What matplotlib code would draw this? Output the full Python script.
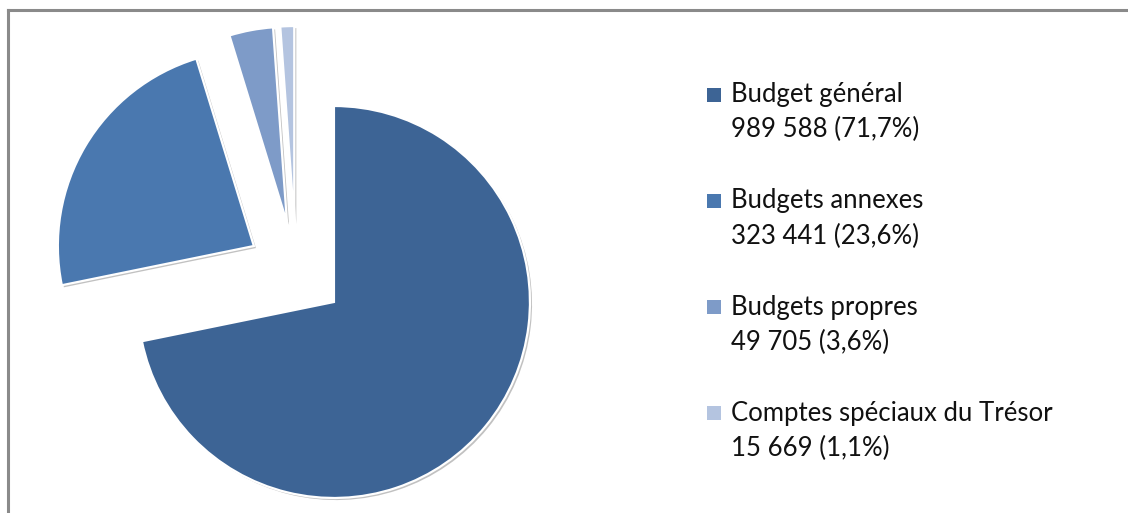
import matplotlib
matplotlib.use("Agg")
import matplotlib.pyplot as plt
from matplotlib.patches import Rectangle
from matplotlib.lines import Line2D
import matplotlib.patheffects as pe

categories = ["Budget général", "Budgets annexes", "Budgets propres", "Comptes spéciaux du Trésor"]
values = [989588, 323441, 49705, 15669]
value_labels = ["989 588 (71,7%)", "323 441 (23,6%)", "49 705 (3,6%)", "15 669 (1,1%)"]
colors = ["#3D6495", "#4A78AF", "#7E9BC8", "#B4C4E0"]

W, H = 1128, 513
fig = plt.figure(figsize=(W / 100, H / 100), dpi=100)
ax = fig.add_axes([0, 0, 1, 1])

R = 196.0
cx, cy = 296.0, 271.0

def px(x, y):
    return (x - cx) / R, (cy - y) / R

wedges, _ = ax.pie(values, colors=colors, startangle=90, counterclock=False,
                   explode=[0.25] * 4, radius=1,
                   wedgeprops=dict(edgecolor="white", linewidth=1.6))
for w in wedges:
    w.set_path_effects([pe.SimplePatchShadow(offset=(1.5, -1.5), shadow_rgbFace="#777777", alpha=0.45),
                        pe.Normal()])

ax.set_aspect("auto")
x0, _ = px(0, 0)
x1, _ = px(W, 0)
_, y1 = px(0, 0)
_, y0 = px(0, H)
ax.set_xlim(x0, x1)
ax.set_ylim(y0, y1)
ax.axis("off")

# frame (top and left edges visible)
fig.add_artist(Line2D([8 / W, 1], [1 - 10 / H, 1 - 10 / H], color="#8a8a8a", lw=2.2))
fig.add_artist(Line2D([8 / W, 8 / W], [0, 1 - 10 / H], color="#8a8a8a", lw=2.2))

font = "Lato"
fs = 18.5
for i, (cat, lab, col) in enumerate(zip(categories, value_labels, colors)):
    base1 = 102 + 106.3 * i
    base2 = 137.5 + 106.3 * i
    sq_c = 94.5 + 106.3 * i
    sx, sy = px(707, sq_c + 7)
    ax.add_patch(Rectangle((sx, sy), 14 / R, 14 / R, facecolor=col, edgecolor="none"))
    tx, ty = px(731, base1)
    ax.text(tx, ty, cat, fontsize=fs, family=font, va="baseline", ha="left", color="#111111")
    tx, ty = px(731, base2)
    ax.text(tx, ty, lab, fontsize=fs, family=font, va="baseline", ha="left", color="#111111")

fig.savefig("out.png", dpi=100, facecolor="white")
